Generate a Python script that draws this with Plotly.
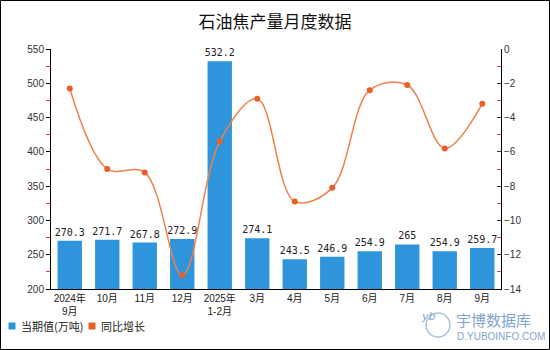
import plotly.graph_objects as go

# Monthly petroleum coke output and year-on-year change
months = ["2024年<br>9月", "10月", "11月", "12月", "2025年<br>1-2月", "3月",
          "4月", "5月", "6月", "7月", "8月", "9月"]
output_wt = [270.3, 271.7, 267.8, 272.9, 532.2, 274.1, 243.5, 246.9, 254.9, 265, 254.9, 259.7]
yoy_pct = [-2.3, -7.0, -7.2, -13.2, -5.4, -2.9, -8.9, -8.1, -2.4, -2.1, -5.8, -3.2]
series_names = ["当期值(万吨)", "同比增长"]

W, H = 550, 350
ML, MR, MT, MB = 51, 49, 49, 61
PW, PH = W - ML - MR, H - MT - MB

BAR_COLOR = "#2E95DC"
LINE_COLOR = "#EE8149"
MARK_COLOR = "#E5602B"
WM_COLOR = "#7FA5CE"


def px_x(p):
    return (p - ML) / PW


def px_y(p):
    return (MT + PH - p) / PH


fig = go.Figure()

fig.add_trace(go.Bar(
    x=months, y=output_wt, name=series_names[0],
    marker=dict(color=BAR_COLOR, line=dict(width=0)),
    text=[f"{v:g}" for v in output_wt], textposition="outside", constraintext="none",
    textfont=dict(family="DejaVu Sans Mono", size=10, color="#222"),
    cliponaxis=False, showlegend=False,
))

fig.add_trace(go.Scatter(
    x=months, y=yoy_pct, name=series_names[1], yaxis="y2",
    mode="lines+markers", line=dict(color=LINE_COLOR, width=1.5, shape="spline", smoothing=1.0),
    marker=dict(color=MARK_COLOR, size=6), showlegend=False,
))

axis_font = dict(family="Liberation Sans", size=10, color="#333")

# legend swatches and labels along the bottom-left
legend_shapes, legend_notes = [], []
for (sx, tx), name, col in zip([(12, 19), (92, 99)], series_names, [BAR_COLOR, MARK_COLOR]):
    legend_shapes.append(dict(type="rect", xref="paper", yref="paper",
                              x0=px_x(sx - 3.5), x1=px_x(sx + 3.5), y0=px_y(329.5), y1=px_y(322.5),
                              line=dict(width=0), fillcolor=col))
    legend_notes.append(dict(text=name, xref="paper", yref="paper", x=px_x(tx), y=px_y(326),
                             xanchor="left", yanchor="middle", showarrow=False,
                             font=dict(family="Noto Sans CJK SC", size=11, color="#222")))

fig.update_layout(
    width=W, height=H,
    margin=dict(l=ML, r=MR, t=MT, b=MB, autoexpand=False),
    paper_bgcolor="white", plot_bgcolor="white",
    title=dict(text="石油焦产量月度数据", x=0.5, xanchor="center", y=1 - 22 / H, yanchor="middle",
               font=dict(family="Noto Sans CJK SC", size=17, color="#111")),
    bargap=0.35,
    showlegend=False,
    xaxis=dict(
        showline=True, linecolor="#000", linewidth=1, ticks="", showgrid=False,
        tickfont=dict(family="Liberation Sans, Noto Sans CJK SC", size=10, color="#222"),
        range=[-0.5, 11.5], automargin=False,
    ),
    yaxis=dict(
        range=[200, 550], dtick=50, showline=True, linecolor="#000", linewidth=1,
        ticks="outside", ticklen=4, tickcolor="#000", showgrid=False, zeroline=False,
        tickfont=axis_font, automargin=False,
        minor=dict(dtick=25, ticks="outside", ticklen=4, tickcolor="#E04040"),
    ),
    yaxis2=dict(
        range=[-14, 0], dtick=2, overlaying="y", side="right", showline=True,
        linecolor="#000", linewidth=1, ticks="inside", ticklen=4, tickcolor="#333",
        showgrid=False, zeroline=False, tickfont=axis_font, automargin=False,
        minor=dict(dtick=1, ticks="inside", ticklen=4, tickcolor="#E04040"),
    ),
    shapes=[
        # outer frame around the whole figure
        dict(type="rect", xref="paper", yref="paper",
             x0=px_x(0.5), x1=px_x(W - 0.5), y0=px_y(H - 0.5), y1=px_y(0.5),
             line=dict(color="#000", width=1), fillcolor="rgba(0,0,0,0)"),
        # watermark logo ring
        dict(type="circle", xref="paper", yref="paper",
             x0=px_x(426), x1=px_x(450), y0=px_y(337), y1=px_y(313),
             line=dict(color="#A9C3DD", width=1.5), fillcolor="rgba(0,0,0,0)"),
    ] + legend_shapes,
    annotations=[
        dict(text="<i>yb</i>", xref="paper", yref="paper", x=px_x(438), y=px_y(325),
             showarrow=False, font=dict(family="DejaVu Sans", size=11, color=WM_COLOR)),
        dict(text="宇博数据库", xref="paper", yref="paper", x=px_x(454), y=px_y(319),
             xanchor="left", yanchor="middle", showarrow=False,
             font=dict(family="Noto Sans CJK SC", size=15, color=WM_COLOR)),
        dict(text="D.YUBOINFO.COM", xref="paper", yref="paper", x=px_x(455), y=px_y(336),
             xanchor="left", yanchor="middle", showarrow=False,
             font=dict(family="Liberation Sans", size=10, color=WM_COLOR)),
    ] + legend_notes,
)

fig.write_html("out.html")
